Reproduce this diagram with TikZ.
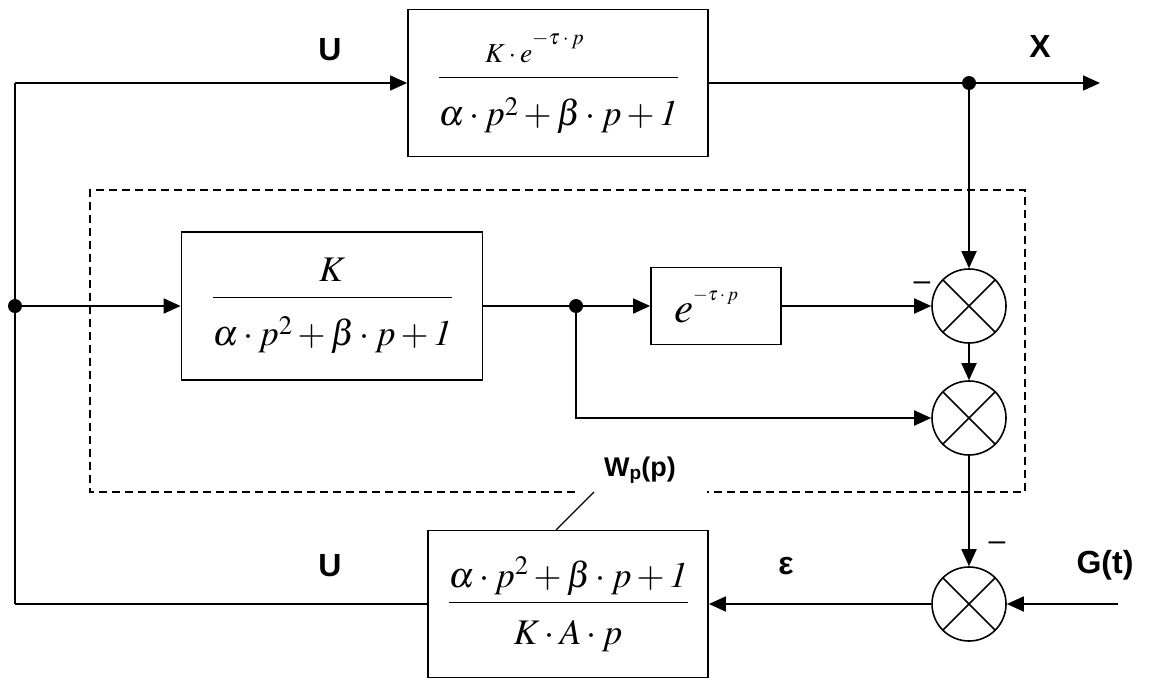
\documentclass[tikz,border=0pt]{standalone}
\usepackage{mathptmx}
\usepackage[no-math]{fontspec}
\setsansfont{Liberation Sans}
\usetikzlibrary{arrows.meta}
\newcommand{\expo}[2]{\raisebox{#1}{\fontsize{#2}{#2}\selectfont$-\tau\mkern2mu{\cdot}\mkern2mu p$}}
\newcommand{\expow}[2]{\raisebox{#1}{\fontsize{#2}{#2}\selectfont$-\tau\cdot p$}}
\begin{document}
\begin{tikzpicture}[x=1pt,y=-1pt,
  blk/.style={draw, line width=1.8pt, inner sep=0pt, font=\fontsize{36}{40}\selectfont},
  sumc/.style={draw, circle, line width=1.6pt, minimum size=74pt, inner sep=0pt},
  wire/.style={line width=1.8pt},
  arr/.style={wire, -{Triangle[length=17pt,width=15pt]}},
  dot/.style={circle, fill, inner sep=0pt, minimum size=14pt},
  lbl/.style={font=\sffamily\bfseries\fontsize{32}{36}\selectfont, inner sep=0pt},
  wplbl/.style={font=\sffamily\bfseries\fontsize{27}{30}\selectfont, inner sep=0pt},
  sgn/.style={font=\sffamily\fontsize{30}{30}\selectfont, inner sep=0pt},
  dashbox/.style={line width=1.5pt, dash pattern=on 8pt off 5pt},
  leader/.style={line width=1.3pt}]
\useasboundingbox (0,0) rectangle (1155,680);
% blocks
\node[blk, minimum width=300pt, minimum height=147pt] (top) at (558,83)
  {$\displaystyle\frac{\scalebox{0.76}{$K\cdot e^{\expow{10pt}{28}}$}}{\rule{0pt}{43pt}\alpha\cdot p^{2}+\beta\cdot p+\mathit{1}}$};
\node[blk, minimum width=301pt, minimum height=148pt] (mid) at (332,306)
  {$\displaystyle\frac{K}{\rule{0pt}{43pt}\alpha\cdot p^{2}+\beta\cdot p+\mathit{1}}$};
\node[blk, minimum width=130pt, minimum height=77pt, text width=84pt, align=left, font=\fontsize{43}{46}\selectfont] (del) at (716,306)
  {$e^{\expo{6pt}{19}}$};
\node[blk, minimum width=280pt, minimum height=147pt] (ctl) at (568,604)
  {$\displaystyle\frac{\alpha\cdot p^{2}+\beta\cdot p+\mathit{1}}{\rule{0pt}{37pt}K\cdot A\cdot p}$};
% summing junctions
\node[sumc] (s1) at (969,306) {};
\node[sumc] (s2) at (969,418) {};
\node[sumc] (s3) at (969,604) {};
\foreach \s in {s1,s2,s3}{
  \draw[line width=1.6pt] (\s.45) -- (\s.225) (\s.135) -- (\s.315);
}
% branch dots
\node[dot] (d1) at (15,306) {};
\node[dot] (d2) at (576,306) {};
\node[dot] (d3) at (969,83) {};
% free ends
\coordinate (tl) at (15,83);
\coordinate (bl) at (15,604);
\coordinate (xo) at (1100,83);
\coordinate (gin) at (1118,604);
% connectors
\draw[wire] (bl) -- (tl);
\draw[arr] (tl) -- (top);
\draw[arr] (top) -- (xo);
\draw[arr] (d3) -- (s1);
\draw[arr] (d1) -- (mid);
\draw[wire] (mid) -- (d2);
\draw[arr] (d2) -- (del);
\draw[arr] (del) -- (s1);
\draw[arr] (d2) |- (s2);
\draw[arr] (s1) -- (s2);
\draw[arr] (s2) -- (s3);
\draw[arr] (gin) -- (s3);
\draw[arr] (s3) -- (ctl);
\draw[wire] (ctl) -- (bl);
% dashed frame
\draw[dashbox] (575,492) -- (90,492) -- (90,190) -- (1025,190) -- (1025,492) -- (707,492);
% labels
\node[lbl] (u1) at (330,50) {U};
\node[lbl] (xl) at (1040,46) {X};
\node[lbl] (u2) at (330,566) {U};
\node[lbl] (eps) at (786,566) {ε};
\node[lbl] (g) at (1105,565) {G(t)};
\node[wplbl] (wp) at (640,470) {W\raisebox{-0.12em}{\fontsize{19}{19}\selectfont p}(p)};
\coordinate (lw1) at (594,492);
\coordinate (lw2) at (556,530);
\draw[leader] (lw1) -- (lw2);
\node[sgn] (m1) at (922,286) {–};
\node[sgn] (m3) at (997,546) {–};
\end{tikzpicture}
\end{document}
